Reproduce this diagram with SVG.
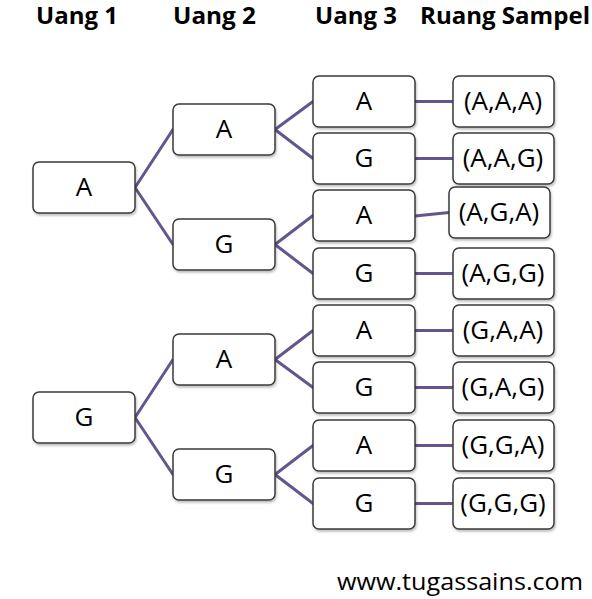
<svg xmlns="http://www.w3.org/2000/svg" width="592" height="599" viewBox="0 0 592 599">
<defs>
<filter id="sh" x="-10%" y="-10%" width="130%" height="140%">
<feDropShadow dx="1" dy="2" stdDeviation="1.2" flood-color="#000" flood-opacity="0.25"/>
</filter>
<style>
.b{fill:#fff;stroke:#3a3a3a;stroke-width:1.5;filter:url(#sh)}
.t{font-family:"Open Sans","Noto Sans",sans-serif;font-size:26px;fill:#000;text-anchor:middle}
.h{font-family:"Open Sans","Noto Sans",sans-serif;font-size:23px;font-weight:bold;fill:#000}
.c{stroke:#65558e;stroke-width:3;fill:none;stroke-linecap:round}
</style>
</defs>
<rect width="592" height="599" fill="#fff"/>
<g id="headers">
<text class="h" x="36" y="24" textLength="82" lengthAdjust="spacingAndGlyphs">Uang 1</text>
<text class="h" x="173" y="24" textLength="83" lengthAdjust="spacingAndGlyphs">Uang 2</text>
<text class="h" x="315" y="24" textLength="82" lengthAdjust="spacingAndGlyphs">Uang 3</text>
<text class="h" x="420" y="24" textLength="170" lengthAdjust="spacingAndGlyphs">Ruang Sampel</text>
</g>
<g id="connectors">
<path class="c" d="M135 187.5L173 129.5M135 187.5L173 244.5M135 417.5L173 359.5M135 417.5L173 474.5"/>
<path class="c" d="M275 129.5L313 101.5M275 129.5L313 158.5M275 244.5L313 215.5M275 244.5L313 273.5M275 359.5L313 330.5M275 359.5L313 387.5M275 474.5L313 445.5M275 474.5L313 503.5"/>
<path class="c" d="M415 101.5H453M415 158.5H453M415 216L449 212.5M415 273.5H453M415 330.5H453M415 387.5H453M415 445.5H453M415 503.5H453"/>
</g>
<g id="u1a"><rect class="b" x="33" y="162" width="102" height="51" rx="6"/><text class="t" x="84" y="196">A</text></g>
<g id="u1g"><rect class="b" x="33" y="392" width="102" height="51" rx="6"/><text class="t" x="84" y="426">G</text></g>
<g id="u2a1"><rect class="b" x="173" y="104" width="102" height="51" rx="6"/><text class="t" x="224" y="138">A</text></g>
<g id="u2g1"><rect class="b" x="173" y="219" width="102" height="51" rx="6"/><text class="t" x="224" y="253">G</text></g>
<g id="u2a2"><rect class="b" x="173" y="334" width="102" height="51" rx="6"/><text class="t" x="224" y="368">A</text></g>
<g id="u2g2"><rect class="b" x="173" y="449" width="102" height="51" rx="6"/><text class="t" x="224" y="483">G</text></g>
<g id="u3a1"><rect class="b" x="313" y="76" width="102" height="51" rx="6"/><text class="t" x="364" y="110">A</text></g>
<g id="u3g1"><rect class="b" x="313" y="133" width="102" height="51" rx="6"/><text class="t" x="364" y="167">G</text></g>
<g id="u3a2"><rect class="b" x="313" y="190" width="102" height="51" rx="6"/><text class="t" x="364" y="224">A</text></g>
<g id="u3g2"><rect class="b" x="313" y="248" width="102" height="51" rx="6"/><text class="t" x="364" y="282">G</text></g>
<g id="u3a3"><rect class="b" x="313" y="305" width="102" height="51" rx="6"/><text class="t" x="364" y="339">A</text></g>
<g id="u3g3"><rect class="b" x="313" y="362" width="102" height="51" rx="6"/><text class="t" x="364" y="396">G</text></g>
<g id="u3a4"><rect class="b" x="313" y="420" width="102" height="51" rx="6"/><text class="t" x="364" y="454">A</text></g>
<g id="u3g4"><rect class="b" x="313" y="478" width="102" height="51" rx="6"/><text class="t" x="364" y="512">G</text></g>
<g id="s1"><rect class="b" x="453" y="76" width="101" height="51" rx="6"/><text class="t" x="503" y="110">(A,A,A)</text></g>
<g id="s2"><rect class="b" x="453" y="133" width="101" height="51" rx="6"/><text class="t" x="503" y="167">(A,A,G)</text></g>
<g id="s3"><rect class="b" x="449" y="187" width="101" height="51" rx="6"/><text class="t" x="499" y="221">(A,G,A)</text></g>
<g id="s4"><rect class="b" x="453" y="248" width="101" height="51" rx="6"/><text class="t" x="503" y="282">(A,G,G)</text></g>
<g id="s5"><rect class="b" x="453" y="305" width="101" height="51" rx="6"/><text class="t" x="503" y="339">(G,A,A)</text></g>
<g id="s6"><rect class="b" x="453" y="362" width="101" height="51" rx="6"/><text class="t" x="503" y="396">(G,A,G)</text></g>
<g id="s7"><rect class="b" x="453" y="420" width="101" height="51" rx="6"/><text class="t" x="503" y="454">(G,G,A)</text></g>
<g id="s8"><rect class="b" x="453" y="478" width="101" height="51" rx="6"/><text class="t" x="503" y="512">(G,G,G)</text></g>
<text x="337" y="590" font-family="'Open Sans','Noto Sans',sans-serif" font-size="24" fill="#000" textLength="246" lengthAdjust="spacingAndGlyphs">www.tugassains.com</text>
</svg>
